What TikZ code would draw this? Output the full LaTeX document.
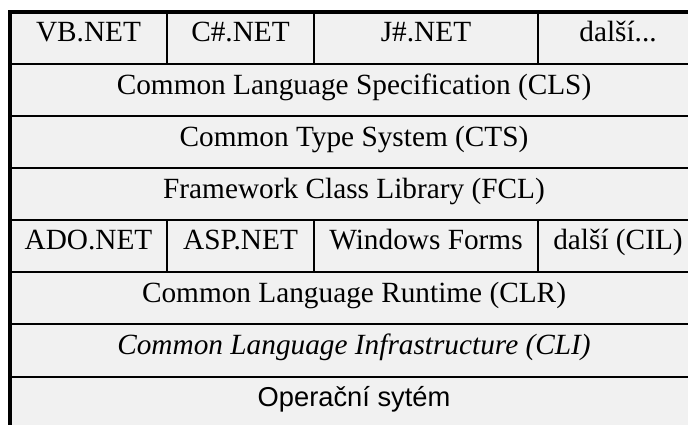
\documentclass[tikz,border=0pt]{standalone}
\usepackage{fontspec}
\setmainfont{Liberation Serif}
\newfontfamily\osfont{Liberation Sans}
\definecolor{cellbg}{HTML}{F1F1F1}
\begin{document}
\begin{tikzpicture}[x=1pt,y=-1pt,
  celltext/.style={anchor=base, inner sep=0pt, font=\fontsize{29.3}{31}\selectfont},
  gridline/.style={line width=2pt, black},
  frameline/.style={line width=4pt, black, line cap=rect}]
\useasboundingbox (0,0) rectangle (688,424);
\begin{scope}
\clip (0,0) rectangle (688,424);
\fill[cellbg] (10,12) rectangle (700,432);
% horizontal separators
\foreach \k in {1,...,7} {
  \draw[gridline] (10,{12+52.08*\k}) -- (700,{12+52.08*\k});
}
% vertical separators, row 1 and row 5
\foreach \xx in {167,314,538} {
  \draw[gridline] (\xx,12) -- (\xx,64.08);
  \draw[gridline] (\xx,220.32) -- (\xx,272.4);
}
% outer frame (top and left)
\draw[frameline] (10,440) -- (10,12) -- (700,12);
% texts
\node[celltext] (vb)   at (88.5,41.7)  {VB.NET};
\node[celltext] (cs)   at (240.5,41.7) {C\#.NET};
\node[celltext] (js)   at (426,41.7)   {J\#.NET};
\node[celltext] (dal)  at (618,41.7)   {další...};
\node[celltext] (cls)  at (354,94.2)   {Common Language Specification (CLS)};
\node[celltext] (cts)  at (354,146.2)  {Common Type System (CTS)};
\node[celltext] (fcl)  at (354,198.3)  {Framework Class Library (FCL)};
\node[celltext] (ado)  at (88.5,249.8) {ADO.NET};
\node[celltext] (asp)  at (240.5,249.8){ASP.NET};
\node[celltext] (wf)   at (426,249.8)  {Windows Forms};
\node[celltext] (cil)  at (618,249.8)  {další (CIL)};
\node[celltext] (clr)  at (354,302.4)  {Common Language Runtime (CLR)};
\node[celltext] (cli)  at (354,354.4)  {\itshape Common Language Infrastructure (CLI)};
\node[celltext, font=\osfont\fontsize{27.3}{30}\selectfont] (os) at (354,406.5) {Operační sytém};
\end{scope}
\end{tikzpicture}
\end{document}
